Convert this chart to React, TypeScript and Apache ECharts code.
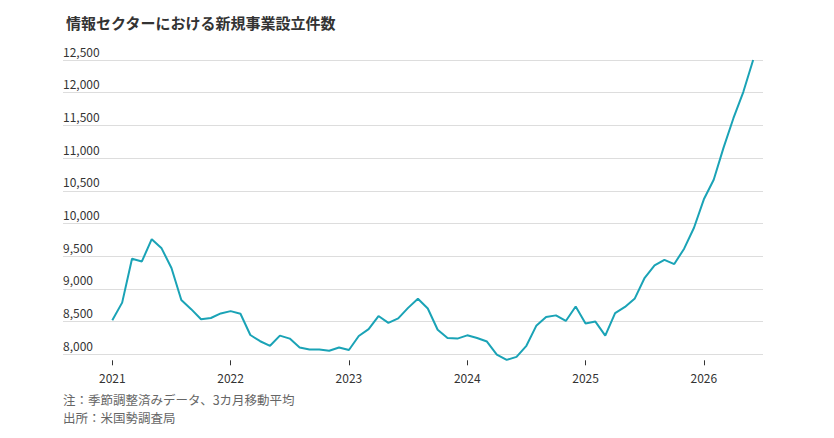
import React, { useEffect, useRef } from "react";
import * as echarts from "echarts";

const TITLE = "情報セクターにおける新規事業設立件数";
const NOTE1 = "注：季節調整済みデータ、3カ月移動平均";
const NOTE2 = "出所：米国勢調査局";

// Monthly values Jan 2021 .. Jun 2026
const startYear = 2021;
const values: number[] = [
  8520, 8790, 9460, 9420, 9760, 9620, 9320, 8830, 8690, 8535, 8555, 8625,
  8660, 8620, 8295, 8200, 8130, 8285, 8240, 8105, 8075, 8075, 8055, 8105,
  8065, 8280, 8385, 8585, 8480, 8550, 8710, 8850, 8700, 8375, 8250, 8240,
  8290, 8250, 8195, 7995, 7915, 7960, 8130, 8435, 8570, 8595, 8510, 8730,
  8470, 8500, 8285, 8630, 8725, 8855, 9170, 9360, 9445, 9380, 9615, 9935,
  10370, 10670, 11160, 11610, 12010, 12500,
];
const padBefore = 5; // empty months on the left of the plot
const padAfter = 1; // empty months on the right of the plot
const yTicks = { min: 8000, max: 12500, interval: 500 };

export default function App() {
  const ref = useRef<HTMLDivElement>(null);
  useEffect(() => {
    if (!ref.current) return;
    const chart = echarts.init(ref.current, undefined, { renderer: "svg" });
    const total = padBefore + values.length + padAfter;
    const categories: string[] = [];
    const data: (number | null)[] = [];
    for (let i = 0; i < total; i++) {
      const m = i - padBefore;
      const y = startYear + Math.floor(m / 12);
      const mo = ((m % 12) + 12) % 12;
      categories.push(`${y}-${String(mo + 1).padStart(2, "0")}`);
      data.push(m >= 0 && m < values.length ? values[m] : null);
    }
    const isJan = (_: number, v: string) => v.endsWith("-01");
    const font = '"Noto Sans CJK JP", "Noto Sans", sans-serif';
    chart.setOption({
      animation: false,
      title: {
        text: TITLE,
        left: 61,
        top: 10,
        textStyle: { fontSize: 15, fontWeight: "bold", color: "#333", fontFamily: font },
      },
      grid: { left: 63, right: 71, top: 60, bottom: 83.7 },
      xAxis: {
        type: "category",
        data: categories,
        boundaryGap: false,
        offset: 6,
        axisLine: { show: false },
        axisTick: { show: true, interval: isJan, length: 5, lineStyle: { color: "#333" } },
        axisLabel: {
          interval: isJan,
          formatter: (v: string) => v.slice(0, 4),
          color: "#333",
          fontSize: 12,
          margin: 11,
          fontFamily: font,
        },
        splitLine: { show: false },
      },
      yAxis: {
        type: "value",
        min: yTicks.min,
        max: yTicks.max,
        interval: yTicks.interval,
        axisLine: { show: false },
        axisTick: { show: false },
        axisLabel: {
          inside: true,
          margin: 0,
          align: "left",
          verticalAlign: "bottom",
          padding: [0, 0, 3, 0],
          color: "#333",
          fontSize: 12,
          fontFamily: font,
          formatter: (v: number) => v.toLocaleString("en-US"),
        },
        splitLine: { show: true, lineStyle: { color: "#dddddd", width: 1 } },
      },
      series: [
        {
          type: "line",
          data,
          clip: false,
          showSymbol: false,
          connectNulls: false,
          lineStyle: { color: "#1aa3b6", width: 2 },
          itemStyle: { color: "#1aa3b6" },
        },
      ],
      graphic: [
        {
          type: "text",
          left: 63,
          top: 391,
          style: { text: NOTE1, fontSize: 12.5, fill: "#666", fontFamily: font, lineHeight: 16 },
        },
        {
          type: "text",
          left: 63,
          top: 409,
          style: { text: NOTE2, fontSize: 12.5, fill: "#666", fontFamily: font, lineHeight: 16 },
        },
      ],
    });
    return () => chart.dispose();
  }, []);
  return (
    <div
      ref={ref}
      style={{ position: "absolute", left: 0, top: 0, width: 834, height: 438 }}
    />
  );
}
